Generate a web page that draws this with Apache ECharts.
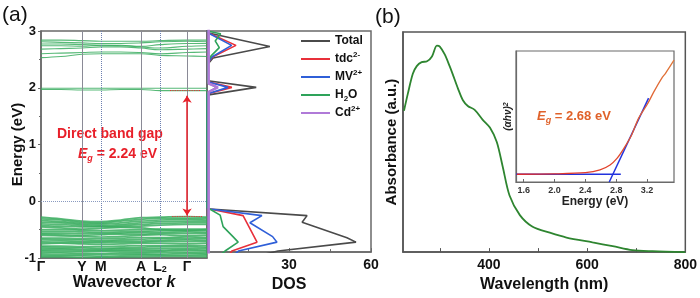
<!DOCTYPE html>
<html>
<head>
<meta charset="utf-8">
<script src="https://cdn.jsdelivr.net/npm/echarts@6.0.0/dist/echarts.min.js"></script>
<style>
html, body { margin: 0; padding: 0; background: #fff; }
#main { width: 700px; height: 298px; }
</style>
</head>
<body>
<div id="main"></div>
<script>
// ---- data: band structure ----
var kNodes = [0, 0.12, 0.247, 0.361, 0.48, 0.602, 0.717, 0.88, 1.0];
var kPoints = [0, 0.247, 0.361, 0.602, 0.717, 0.88];
var kLabels = ['Γ', 'Y', 'M', 'A', 'L{s|2}', 'Γ'];

var condBands = [
    [2.84, 2.84, 2.83, 2.82, 2.82, 2.82, 2.83, 2.84, 2.84],
    [2.81, 2.80, 2.79, 2.78, 2.78, 2.79, 2.81, 2.82, 2.81],
    [2.77, 2.77, 2.76, 2.75, 2.75, 2.73, 2.76, 2.78, 2.78],
    [2.74, 2.74, 2.73, 2.75, 2.74, 2.72, 2.70, 2.73, 2.74],
    [2.68, 2.69, 2.70, 2.72, 2.72, 2.70, 2.67, 2.68, 2.69],
    [2.60, 2.61, 2.62, 2.63, 2.63, 2.62, 2.60, 2.62, 2.63],
    [2.53, 2.55, 2.59, 2.60, 2.60, 2.60, 2.57, 2.56, 2.55]
];
var flatBands = [
    [1.99, 1.99, 1.99, 1.99, 1.99, 1.99, 1.99, 1.99, 1.99],
    [1.97, 1.97, 1.96, 1.96, 1.97, 1.97, 1.95, 1.95, 1.95]
];
var valBands = [
    [-0.28, -0.31, -0.35, -0.36, -0.33, -0.29, -0.28, -0.27, -0.28],
    [-0.31, -0.33, -0.37, -0.38, -0.35, -0.32, -0.30, -0.30, -0.30],
    [-0.34, -0.36, -0.39, -0.40, -0.38, -0.35, -0.33, -0.32, -0.33],
    [-0.37, -0.38, -0.41, -0.42, -0.41, -0.38, -0.36, -0.35, -0.35],
    [-0.40, -0.41, -0.43, -0.44, -0.43, -0.41, -0.39, -0.38, -0.38],
    [-0.43, -0.44, -0.45, -0.45, -0.45, -0.44, -0.42, -0.41, -0.41],
    [-0.45, -0.47, -0.49, -0.48, -0.46, -0.47, -0.50, -0.51, -0.50],
    [-0.50, -0.50, -0.51, -0.52, -0.51, -0.50, -0.49, -0.49, -0.49],
    [-0.53, -0.53, -0.54, -0.55, -0.54, -0.53, -0.52, -0.52, -0.52],
    [-0.56, -0.56, -0.57, -0.57, -0.56, -0.55, -0.55, -0.54, -0.55],
    [-0.58, -0.59, -0.60, -0.59, -0.58, -0.58, -0.57, -0.57, -0.57],
    [-0.60, -0.61, -0.62, -0.63, -0.62, -0.60, -0.59, -0.61, -0.60],
    [-0.65, -0.65, -0.66, -0.66, -0.65, -0.64, -0.64, -0.63, -0.64],
    [-0.67, -0.68, -0.68, -0.69, -0.68, -0.67, -0.66, -0.66, -0.66],
    [-0.70, -0.70, -0.71, -0.71, -0.70, -0.70, -0.69, -0.68, -0.69],
    [-0.72, -0.73, -0.73, -0.73, -0.72, -0.72, -0.71, -0.71, -0.71],
    [-0.75, -0.74, -0.75, -0.76, -0.75, -0.74, -0.74, -0.75, -0.74],
    [-0.79, -0.79, -0.80, -0.80, -0.79, -0.78, -0.78, -0.78, -0.78],
    [-0.81, -0.82, -0.82, -0.83, -0.82, -0.81, -0.80, -0.80, -0.81],
    [-0.84, -0.84, -0.85, -0.85, -0.84, -0.84, -0.83, -0.83, -0.83],
    [-0.86, -0.86, -0.87, -0.87, -0.86, -0.86, -0.86, -0.85, -0.86],
    [-0.88, -0.89, -0.89, -0.88, -0.88, -0.89, -0.88, -0.87, -0.88],
    [-0.91, -0.91, -0.92, -0.92, -0.91, -0.91, -0.90, -0.90, -0.91],
    [-0.93, -0.94, -0.94, -0.94, -0.93, -0.93, -0.93, -0.92, -0.93],
    [-0.96, -0.96, -0.96, -0.97, -0.96, -0.95, -0.95, -0.95, -0.95],
    [-0.98, -0.98, -0.99, -0.99, -0.98, -0.98, -0.97, -0.97, -0.98]
];

// ---- data: DOS, [dos, energy] ----
var dosTotal = [[20, -1.05], [26, -0.98], [54.5, -0.82], [51.2, -0.74], [34.8, -0.46], [36.6, -0.34], [1, -0.22], [0, -0.2],
    [0, 1.84], [18, 1.98], [0.3, 2.1], [0.3, 2.4], [2.2, 2.51], [23, 2.72], [1, 2.96], [0, 3.02]];
var dosTdc = [[8, -1.05], [9.1, -0.98], [18.3, -0.82], [14.6, -0.47], [13.2, -0.34], [1, -0.22], [0, -0.2],
    [0, 1.86], [9.1, 1.98], [0.3, 2.08], [0.3, 2.42], [2, 2.53], [10.6, 2.74], [1.2, 2.95], [0, 3.0]];
var dosMV = [[10, -1.05], [11.5, -0.98], [25.6, -0.82], [24, -0.72], [15.7, -0.47], [20.1, -0.34], [1, -0.22], [0, -0.2],
    [0, 1.86], [7.7, 1.98], [0.3, 2.08], [0.3, 2.42], [1.8, 2.53], [9, 2.74], [1, 2.95], [0, 3.0]];
var dosH2O = [[5, -1.05], [6.6, -0.98], [11.4, -0.82], [9.5, -0.72], [5.9, -0.54], [4.8, -0.33], [1, -0.22], [0, -0.2],
    [0, 1.88], [3.5, 1.98], [0.3, 2.06], [0.3, 2.45], [1.5, 2.55], [4.5, 2.7], [3, 2.82], [5, 2.95], [0, 3.0]];
var dosCd = [[0.6, -1.05], [0.6, 1.9], [4, 1.98], [0.6, 2.05], [0.6, 3.05]];
var dosNames = ['Total', 'tdc', 'MV', 'H2O', 'Cd'];
var dosLabels = ['Total', 'tdc{sup|2-}', 'MV{sup|2+}', 'H{sub|2}O', 'Cd{sup|2+}'];

// ---- data: absorbance ----
var absWl = [227, 235, 245, 253, 263, 274, 284, 294, 300, 310, 320, 326, 337, 347, 357, 371, 387, 402, 416, 428, 442, 463, 489, 524, 558, 611, 652, 692, 733, 800];
var absVal = [0.642, 0.721, 0.810, 0.845, 0.863, 0.867, 0.889, 0.938, 0.934, 0.898, 0.845, 0.810, 0.743, 0.690, 0.664, 0.646, 0.602, 0.566, 0.500, 0.389, 0.257, 0.168, 0.115, 0.088, 0.066, 0.044, 0.027, 0.009, 0.004, 0.0];

// ---- data: Tauc inset ----
var taucE = [1.51, 2.0, 2.40, 2.59, 2.72, 2.81, 2.90, 3.00, 3.09, 3.21, 3.29, 3.40, 3.44, 3.55];
var taucV = [0.059, 0.062, 0.071, 0.092, 0.13, 0.18, 0.257, 0.359, 0.486, 0.60, 0.69, 0.80, 0.83, 0.93];
var fitE = [2.71, 3.22];
var fitV = [0.0, 0.64];
var baseE = [1.5, 2.86];
var baseV = [0.059, 0.059];

var FONT = 'Liberation Sans';
var frame = '#6a6a6a';

var chartDom = document.getElementById('main');
var myChart = echarts.init(chartDom);

var kMarks = kPoints.map(function (k, i) {
    var solid = i % 2 === 1;
    return [
        { coord: [k, -1], label: { formatter: kLabels[i] },
          lineStyle: { color: i === 0 ? 'transparent' : (solid ? '#8a8a96' : '#6c7fb0'), type: solid ? 'solid' : 'dotted', width: 1 } },
        { coord: [k, 3] }
    ];
});

var series = [];
condBands.concat(flatBands, valBands).forEach(function (b, n) {
    series.push({
        type: 'line', xAxisIndex: 0, yAxisIndex: 0, symbol: 'none', smooth: 0.4, silent: true,
        lineStyle: { color: '#3aad5f', width: n < condBands.length + flatBands.length ? 1.1 : 1.7, opacity: 0.85 },
        data: kNodes.map(function (k, i) { return [k, b[i]]; }),
        z: 2
    });
});
// markers for panel (a)
series.push({
    type: 'line', xAxisIndex: 0, yAxisIndex: 0, symbol: 'none', silent: true, data: [], z: 3,
    markLine: {
        silent: true, symbol: 'none', animation: false,
        label: {
            position: 'start', distance: 2, color: '#111', fontFamily: FONT, fontWeight: 'bold', fontSize: 14,
            rich: { s: { fontSize: 9, fontWeight: 'bold', fontFamily: FONT, verticalAlign: 'bottom', lineHeight: 8, color: '#111' } }
        },
        data: kMarks.concat([
            [{ coord: [0, 0], label: { show: false }, lineStyle: { color: '#8a9ac0', type: 'dotted', width: 1 } }, { coord: [1, 0] }],
            [{ coord: [0.777, 1.95], label: { show: false }, lineStyle: { color: '#e8303a', type: 'dotted', width: 1.2 } }, { coord: [0.958, 1.95] }],
            [{ coord: [0.79, -0.26], label: { show: false }, lineStyle: { color: '#e8303a', type: 'dotted', width: 1.2 } }, { coord: [0.97, -0.26] }],
            [{ coord: [0.88, 1.86], label: { show: false }, symbol: 'arrow', symbolSize: 7, lineStyle: { color: '#e8202a', type: 'solid', width: 1.5 } },
             { coord: [0.88, -0.25], symbol: 'arrow', symbolSize: 7 }]
        ])
    }
});

var dosColors = ['#4a4a4a', '#e8303a', '#2f5fd8', '#2ea35a', '#b07ad8'];
[dosTotal, dosTdc, dosMV, dosH2O, dosCd].forEach(function (d, i) {
    series.push({
        name: dosNames[i], type: 'line', xAxisIndex: 1, yAxisIndex: 1, symbol: 'none', silent: true,
        lineStyle: { color: dosColors[i], width: i === 4 ? 2.6 : 1.6 },
        itemStyle: { color: dosColors[i] },
        data: d, z: 4
    });
});

series.push({
    type: 'line', xAxisIndex: 2, yAxisIndex: 2, symbol: 'none', smooth: 0.3, silent: true,
    lineStyle: { color: '#2e8530', width: 1.8 },
    data: absWl.map(function (w, i) { return [w, absVal[i]]; })
});
series.push({
    type: 'line', xAxisIndex: 3, yAxisIndex: 3, symbol: 'none', smooth: 0.3, silent: true,
    lineStyle: { width: 1.3, color: new echarts.graphic.LinearGradient(0, 0, 1, 0, [
        { offset: 0, color: '#e22a2a' }, { offset: 0.6, color: '#e2452c' }, { offset: 1, color: '#e07a3a' }]) },
    data: taucE.map(function (e, i) { return [e, taucV[i]]; }), z: 5
});
series.push({
    type: 'line', xAxisIndex: 3, yAxisIndex: 3, symbol: 'none', silent: true,
    lineStyle: { color: '#2233dd', width: 1.5 },
    data: fitE.map(function (e, i) { return [e, fitV[i]]; }), z: 4
});
series.push({
    type: 'line', xAxisIndex: 3, yAxisIndex: 3, symbol: 'none', silent: true,
    lineStyle: { color: '#2233dd', width: 1.5 },
    data: baseE.map(function (e, i) { return [e, baseV[i]]; }), z: 4
});

var boldLabel = { color: '#111', fontFamily: FONT, fontWeight: 'bold', fontSize: 14 };

var option = {
    animation: false,
    textStyle: { fontFamily: FONT },
    grid: [
        { left: 41, top: 31, width: 166, height: 227, show: true, borderColor: frame, borderWidth: 1.5 },
        { left: 207, top: 31, width: 164, height: 227, show: true, borderColor: frame, borderWidth: 1.5 },
        { left: 403, top: 32, width: 283, height: 226, show: true, borderColor: '#555', borderWidth: 1.5 },
        { left: 516, top: 51, width: 158, height: 131, show: true, borderColor: frame, borderWidth: 1.2 }
    ],
    legend: {
        data: dosNames, orient: 'vertical', left: 301, top: 33, padding: 0, icon: 'rect', itemWidth: 29, itemHeight: 2, itemGap: 2,
        formatter: function (name) { return dosLabels[dosNames.indexOf(name)]; },
        textStyle: {
            color: '#111', fontFamily: FONT, fontWeight: 'bold', fontSize: 12, lineHeight: 16,
            rich: {
                sup: { fontSize: 8, fontWeight: 'bold', fontFamily: FONT, color: '#111', verticalAlign: 'top', lineHeight: 8 },
                sub: { fontSize: 8, fontWeight: 'bold', fontFamily: FONT, color: '#111', verticalAlign: 'bottom', lineHeight: 8 }
            }
        }
    },
    xAxis: [
        { gridIndex: 0, type: 'value', min: 0, max: 1, axisLabel: { show: false }, axisTick: { show: false }, splitLine: { show: false },
          axisLine: { onZero: false, lineStyle: { color: frame, width: 1.5 } },
          name: 'Wavevector {i|k}', nameLocation: 'middle', nameGap: 17,
          nameTextStyle: { color: '#111', fontFamily: FONT, fontWeight: 'bold', fontSize: 16,
              rich: { i: { fontStyle: 'italic', fontWeight: 'bold', fontSize: 16, fontFamily: FONT, color: '#111' } } } },
        { gridIndex: 1, type: 'value', min: 0, max: 60, interval: 30, splitLine: { show: false },
          axisLine: { onZero: false, lineStyle: { color: frame, width: 1.5 } },
          axisTick: { inside: true, length: 4, lineStyle: { color: frame } },
          minorTick: { show: true, splitNumber: 2, length: 3, lineStyle: { color: frame } },
          axisLabel: Object.assign({ formatter: function (v) { return v === 0 ? '' : v; }, margin: 6 }, boldLabel),
          name: 'DOS', nameLocation: 'middle', nameGap: 17,
          nameTextStyle: { color: '#111', fontFamily: FONT, fontWeight: 'bold', fontSize: 16 } },
        { gridIndex: 2, type: 'value', min: 225, max: 800, splitLine: { show: false },
          axisLine: { onZero: false, lineStyle: { color: '#555', width: 1.5 } },
          axisTick: { inside: true, length: 4, customValues: [300, 400, 500, 600, 700], lineStyle: { color: '#555' } },
          axisLabel: Object.assign({ customValues: [400, 600, 800], margin: 6 }, boldLabel),
          name: 'Wavelength (nm)', nameLocation: 'middle', nameGap: 18,
          nameTextStyle: { color: '#111', fontFamily: FONT, fontWeight: 'bold', fontSize: 16 } },
        { gridIndex: 3, type: 'value', min: 1.5, max: 3.55, splitLine: { show: false },
          axisLine: { onZero: false, lineStyle: { color: frame, width: 1.2 } },
          axisTick: { inside: true, length: 3, customValues: [1.6, 2.0, 2.4, 2.8, 3.2], lineStyle: { color: frame } },
          axisLabel: { customValues: [1.6, 2.0, 2.4, 2.8, 3.2], formatter: function (v) { return v.toFixed(1); },
              color: '#333', fontFamily: FONT, fontWeight: 'bold', fontSize: 9, margin: 4 },
          name: 'Energy (eV)', nameLocation: 'middle', nameGap: 14,
          nameTextStyle: { color: '#222', fontFamily: FONT, fontWeight: 'bold', fontSize: 12 } }
    ],
    yAxis: [
        { gridIndex: 0, type: 'value', min: -1, max: 3, interval: 1, splitLine: { show: false },
          axisLine: { onZero: false, lineStyle: { color: frame, width: 1.5 } },
          axisTick: { length: 3, lineStyle: { color: frame } },
          minorTick: { show: true, splitNumber: 2, length: 2, lineStyle: { color: frame } },
          axisLabel: Object.assign({ margin: 5 }, boldLabel, { fontSize: 13 }),
          name: 'Energy (eV)', nameLocation: 'middle', nameGap: 16, nameMoveOverlap: false,
          nameTextStyle: { color: '#111', fontFamily: FONT, fontWeight: 'bold', fontSize: 15 } },
        { gridIndex: 1, type: 'value', min: -1, max: 3, axisLabel: { show: false }, axisTick: { show: false }, splitLine: { show: false },
          axisLine: { onZero: false, lineStyle: { color: frame, width: 1.5 } } },
        { gridIndex: 2, type: 'value', min: 0, max: 1, axisLabel: { show: false }, axisTick: { show: false }, splitLine: { show: false },
          axisLine: { onZero: false, lineStyle: { color: '#555', width: 1.5 } },
          name: 'Absorbance (a.u.)', nameLocation: 'middle', nameGap: 4,
          nameTextStyle: { color: '#111', fontFamily: FONT, fontWeight: 'bold', fontSize: 15 } },
        { gridIndex: 3, type: 'value', min: 0, max: 1, axisLabel: { show: false }, axisTick: { show: false }, splitLine: { show: false },
          axisLine: { onZero: false, lineStyle: { color: frame, width: 1.2 } },
          name: '(αhν){sup|2}', nameLocation: 'middle', nameGap: 3,
          nameTextStyle: { color: '#222', fontFamily: FONT, fontStyle: 'italic', fontWeight: 'bold', fontSize: 10,
              rich: { sup: { fontSize: 7, fontStyle: 'italic', fontFamily: FONT, color: '#222', verticalAlign: 'top', lineHeight: 6 } } } }
    ],
    graphic: [
        { type: 'text', left: 2, top: 5, style: { text: '(a)', fill: '#111', font: '21px Liberation Sans' } },
        { type: 'text', left: 375, top: 7, style: { text: '(b)', fill: '#111', font: '21px Liberation Sans' } },
        { type: 'text', left: 57, top: 127, style: { text: 'Direct band gap', fill: '#e8202a', font: 'bold 14px Liberation Sans' } },
        { type: 'text', left: 78, top: 145, style: {
            text: '{i|E}{s|g} = 2.24 eV', fill: '#e8202a', font: 'bold 14px Liberation Sans', lineHeight: 18,
            rich: { i: { fontStyle: 'italic', fontWeight: 'bold', fontSize: 14, fontFamily: FONT, fill: '#e8202a', lineHeight: 18 },
                    s: { fontStyle: 'italic', fontWeight: 'bold', fontSize: 9, fontFamily: FONT, fill: '#e8202a', verticalAlign: 'bottom', lineHeight: 8 } } } },
        { type: 'text', left: 537, top: 108, z: 10, style: {
            text: '{i|E}{s|g} = 2.68 eV', fill: '#e0622a', font: 'bold 13px Liberation Sans', lineHeight: 17,
            rich: { i: { fontStyle: 'italic', fontWeight: 'bold', fontSize: 13, fontFamily: FONT, fill: '#e0622a', lineHeight: 17 },
                    s: { fontStyle: 'italic', fontWeight: 'bold', fontSize: 9, fontFamily: FONT, fill: '#e0622a', verticalAlign: 'bottom', lineHeight: 8 } } } }
    ],
    series: series
};
option && myChart.setOption(option);
</script>
</body>
</html>
